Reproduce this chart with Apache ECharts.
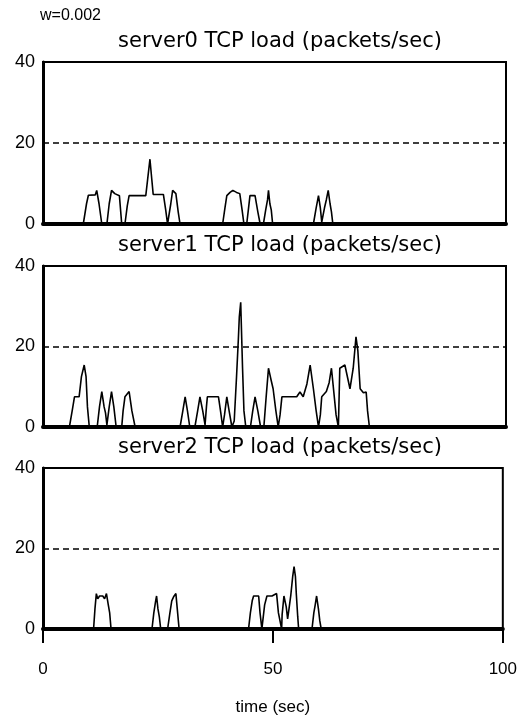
<!DOCTYPE html>
<html>
<head>
<meta charset="utf-8">
<script src="https://cdn.jsdelivr.net/npm/echarts@6/dist/echarts.min.js"></script>
<style>
  html, body { margin: 0; padding: 0; background: #fff; }
  #chart { width: 520px; height: 718px; }
</style>
</head>
<body>
<div id="chart"></div>
<script>
// load samples [time (sec), packets/sec]
const server0 = [
  [0,0],[8.7,0],[9.4,5],[9.8,7.1],[11.3,7.2],[11.6,8.3],[12.1,5],[12.7,0],
  [13.8,0],[14.3,5],[14.8,8.3],[15.5,7.5],[16.5,7],[17,0],
  [17.7,0],[18.2,4.5],[18.6,7],[22.2,7],[22.6,11],[23.1,16],[23.5,11],[23.8,7.3],[26,7.3],[26.5,3.5],[26.9,0],
  [27.3,0],[27.6,5],[28,8.3],[28.7,7.5],[29.2,3],[29.6,0],
  [38.8,0],[39.3,4],[39.7,7],[40.4,7.8],[41,8.3],[41.8,7.8],[42.5,7.5],[43,3.5],[43.4,0],
  [44,0],[44.4,4],[44.7,7],[45.8,7],[46.4,3],[46.9,0],
  [47.6,0],[48.1,3.5],[48.5,6],[48.7,8.3],[49,5],[49.3,3.5],[49.6,0],
  [58.4,0],[59,4],[59.5,7],[59.9,4],[60.2,0.5],[60.8,4],[61.2,6],[61.6,8.3],[62,5],[62.3,3],[62.6,0],
  [99,0]
];
const server1 = [
  [0,0],[5.7,0],[6.3,4],[6.8,7.5],[7.8,7.5],[8.3,12.5],[8.9,15.4],[9.3,12.5],[9.6,5],[10,0],
  [11.7,0],[12.2,5],[12.7,8.8],[13.2,5],[13.5,3.5],[13.8,0.5],[14.3,5],[14.8,8.8],[15.3,5],[15.8,0],
  [17,0],[17.3,4],[17.7,7.5],[18.6,8.8],[19.2,4],[19.9,0],
  [29.6,0],[30.2,4],[30.7,7.5],[31.2,4],[31.7,0],
  [32.8,0],[33.4,4],[33.9,7.5],[34.5,4],[35,0.5],[35.3,5],[35.5,7.5],[37.9,7.5],[38.4,3.5],[38.8,0],
  [39.2,3],[39.7,7.5],[40.2,4],[40.8,0],
  [41.3,1.5],[41.8,12.5],[42.2,22],[42.4,27.4],[42.7,31],[43.1,14.6],[43.4,4],[43.8,0],
  [44.8,0],[45.3,4],[45.8,7.5],[46.4,4],[47,0],
  [47.7,0],[48.2,7.5],[48.7,14.6],[49.2,12],[49.7,9.5],[50.3,4],[50.8,0],
  [51.2,3],[51.6,7.5],[54.8,7.5],[55.5,8.7],[56.2,7.5],[57,10.7],[57.7,15.4],[58.4,9.5],[59,4],[59.5,0],
  [59.9,3],[60.2,7.5],[61.2,8.8],[61.8,11],[62.3,14.6],[62.7,14.8],[63.3,3],[63.8,0],
  [64.1,14.6],[65.2,15.4],[65.6,15],[66.3,9.5],[67,14.6],[67.6,22.4],[68,19],[68.5,9.5],[69.2,8.5],[69.8,8.7],[70.1,4],[70.5,0],
  [99,0]
];
const server2 = [
  [0,0],[11,0],[11.3,5],[11.6,8.8],[11.9,7.5],[12.3,8.2],[13,8.2],[13.4,7.5],[13.8,8.8],[14.2,6],[14.5,4],[14.8,0],
  [23.7,0],[24.1,4],[24.5,7],[24.7,8.2],[25,5],[25.3,3],[25.6,0],
  [27.1,0],[27.6,4],[28,7],[28.4,8],[28.9,8.8],[29.2,5],[29.6,0],
  [44.7,0],[45.1,4],[45.5,7],[45.8,8.2],[46.9,8.2],[47.2,4],[47.6,0],
  [47.8,2],[48.2,6],[48.7,8.2],[49.8,8.2],[50.8,8.8],[51.2,4],[51.9,0],
  [52,3.5],[52.4,8.2],[52.9,5.5],[53.2,2.5],[53.5,5],[53.9,8.5],[54.3,13],[54.6,15.5],[54.9,13],[55.1,8.5],[55.4,3],[55.6,0],
  [58.5,0],[58.9,4],[59.2,6],[59.5,8.2],[59.9,5],[60.2,2],[60.5,0],
  [99,0]
];
const panelTitles = [
  'server0 TCP load (packets/sec)',
  'server1 TCP load (packets/sec)',
  'server2 TCP load (packets/sec)'
];
const yTicks = [0, 20, 40];
const xTicks = [0, 50, 100];
const refLevel = 20;
const windowLabel = 'w=0.002';
const xName = 'time (sec)';

const FONT = 'Liberation Sans';
const TITLE_FONT = 'DejaVu Sans';
const panels = [server0, server1, server2];
const tops = [62, 266, 468];
const heights = [162, 161, 161];

const chart = echarts.init(document.getElementById('chart'));

const grid = [], xAxis = [], yAxis = [], series = [];
const title = [{
  text: windowLabel, left: 40, top: 8, padding: 0,
  textStyle: { fontFamily: FONT, fontSize: 16, fontWeight: 'normal', color: '#000' }
}];

panels.forEach((data, i) => {
  const last = i === panels.length - 1;
  grid.push({
    left: 43, right: 14, top: tops[i], height: heights[i],
    show: true, borderColor: '#000', borderWidth: 2, backgroundColor: '#fff'
  });
  title.push({
    text: panelTitles[i], left: 280, top: tops[i] - 31, padding: 0, textAlign: 'center',
    textStyle: { fontFamily: TITLE_FONT, fontSize: 21, fontWeight: 'normal', color: '#000' }
  });
  xAxis.push({
    type: 'value', gridIndex: i, min: xTicks[0], max: xTicks[xTicks.length - 1], interval: 50,
    axisLine: { onZero: false, lineStyle: { color: '#000', width: 4 } },
    axisTick: { show: last, length: 14, lineStyle: { color: '#000', width: 2 } },
    axisLabel: {
      show: last, margin: 32, color: '#000', fontFamily: FONT, fontSize: 17
    },
    splitLine: { show: false },
    name: last ? xName : '', nameLocation: 'middle', nameGap: 70,
    nameTextStyle: { fontFamily: FONT, fontSize: 17, color: '#000' }
  });
  yAxis.push({
    type: 'value', gridIndex: i, min: yTicks[0], max: yTicks[yTicks.length - 1], interval: 20,
    axisLine: { show: true, lineStyle: { color: '#000', width: 3 } },
    axisTick: { show: false },
    axisLabel: { margin: 8, color: '#000', fontFamily: FONT, fontSize: 18 },
    splitLine: { show: false }
  });
  series.push({
    type: 'line', xAxisIndex: i, yAxisIndex: i, data: data,
    showSymbol: false, silent: true, animation: false,
    lineStyle: { color: '#000', width: 1.6 },
    markLine: {
      silent: true, symbol: 'none', label: { show: false }, animation: false,
      lineStyle: { color: '#000', type: [6, 4], width: 1.5 },
      data: [{ yAxis: refLevel }]
    }
  });
});

chart.setOption({
  animation: false,
  backgroundColor: '#fff',
  title, grid, xAxis, yAxis, series
});
</script>
</body>
</html>
